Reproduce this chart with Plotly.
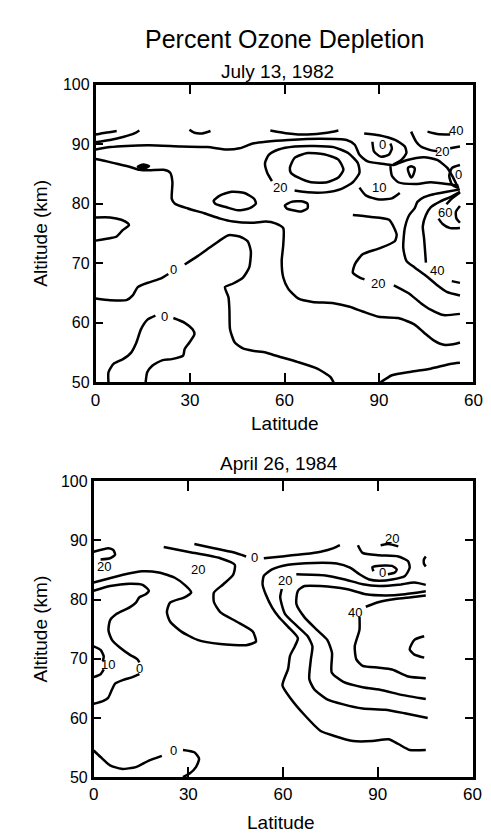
import plotly.graph_objects as go

# ---------------- axis ticks ----------------
lat_tickvals = [0, 30, 60, 90, 120]
lat_ticktext = ["0", "30", "60", "90", "60"]
alt_tickvals = [50, 60, 70, 80, 90, 100]

# ---------------- July 13, 1982 : contour lines (latitude path, altitude km) ----------------
t_a_lat = [0.0, 3.1, 6.7]
t_a_alt = [91.6, 91.9, 92.2]
t_b_lat = [0.0, 4.6, 8.7, 12.3, 13.9]
t_b_alt = [90.3, 90.7, 91.2, 91.8, 92.3]
t_c_lat = [0.0, 4.6, 9.8, 17.0, 27.2, 35.5, 41.6, 45.7, 49.9, 54.0, 61.2, 71.5, 79.7, 82.3, 83.8, 86.4, 91.0, 94.6, 98.7, 104.3, 108.6, 111.7, 113.2, 115.1]
t_c_alt = [89.1, 89.5, 89.7, 89.8, 89.6, 89.5, 89.1, 89.3, 90.1, 90.4, 90.7, 90.9, 90.7, 89.9, 88.2, 87.1, 86.7, 86.5, 87.3, 87.8, 87.3, 86.0, 84.7, 82.7]
t_arc1_lat = [29.8, 31.4, 33.9, 36.5]
t_arc1_alt = [92.4, 91.9, 91.8, 92.2]
t_d_lat = [0.0, 3.6, 6.7, 10.8, 13.9, 17.0, 21.6, 23.7, 24.4, 24.2, 25.2, 29.3, 34.5, 39.6, 43.7, 49.9, 54.0, 57.1, 59.6, 59.6, 59.1, 59.6, 61.2, 64.3, 68.9, 75.6, 80.7, 84.8, 89.9, 96.1, 101.3, 104.4, 107.5, 110.6, 113.6, 115.7]
t_d_alt = [87.5, 87.1, 86.7, 86.2, 85.7, 85.6, 85.7, 85.2, 83.6, 80.8, 80.0, 79.2, 78.4, 77.5, 77.0, 76.8, 77.0, 76.7, 75.9, 73.1, 70.4, 67.6, 65.7, 64.1, 63.5, 63.3, 62.7, 61.9, 61.0, 60.8, 59.7, 58.3, 57.0, 56.3, 56.4, 56.7]
t_lobe_lat = [0.0, 4.6, 8.2, 10.3, 10.6, 8.7, 6.7, 4.6, 0.0]
t_lobe_alt = [77.7, 77.7, 77.3, 76.7, 76.4, 75.6, 74.5, 74.2, 73.8]
t_oval1_lat = [37.5, 39.6, 43.2, 47.3, 50.4, 50.9, 48.8, 45.2, 41.6, 38.0, 37.5]
t_oval1_alt = [80.5, 81.4, 82.0, 81.8, 80.8, 80.0, 79.2, 78.9, 79.4, 80.0, 80.5]
t_e1_lat = [0.0, 4.6, 9.8, 11.8, 13.4, 17.0, 20.6, 23.1]
t_e1_alt = [64.1, 63.8, 63.8, 64.6, 66.0, 66.8, 67.4, 68.2]
t_e2_lat = [28.3, 32.4, 37.5, 42.2, 45.7, 48.3, 49.3, 48.8, 46.8, 43.7, 41.1, 42.2, 42.5, 42.7, 44.2, 46.8, 49.9, 54.0, 57.1, 64.3, 70.4, 74.6, 75.6]
t_e2_alt = [69.8, 71.2, 73.1, 74.7, 74.5, 73.7, 72.0, 69.3, 67.6, 66.6, 66.0, 64.3, 62.2, 58.9, 56.7, 55.7, 55.3, 55.0, 54.5, 53.4, 52.3, 50.9, 50.0]
t_f1_lat = [4.1, 4.1, 5.7, 8.7, 11.3, 12.9, 14.4, 16.4, 19.0]
t_f1_alt = [50.0, 51.7, 53.1, 53.9, 55.0, 56.6, 58.9, 60.5, 61.2]
t_f2_lat = [24.7, 28.3, 30.8, 31.4, 29.8, 28.3, 27.8, 24.2, 21.1, 18.0, 16.4, 15.9]
t_f2_alt = [60.8, 60.0, 58.9, 58.1, 56.7, 55.6, 54.5, 53.9, 53.7, 52.8, 51.7, 50.0]
t_g_lat = [90.5, 94.1, 100.2, 106.4, 112.6, 115.7]
t_g_alt = [50.0, 51.2, 51.8, 52.3, 53.1, 53.3]
t_s1_lat = [81.7, 87.0, 93.2, 95.6, 95.0, 90.1, 84.8, 82.4, 81.7, 83.9, 85.4]
t_s1_alt = [78.1, 77.8, 77.3, 74.8, 73.7, 72.5, 71.5, 69.9, 68.4, 67.6, 67.3]
t_s2_lat = [94.7, 99.3, 103.3, 106.4, 110.4, 115.7]
t_s2_alt = [66.3, 65.0, 63.3, 62.2, 61.3, 61.5]
t_oval2_lat = [61.7, 63.2, 67.3, 72.5, 77.1, 78.7, 77.1, 73.5, 68.4, 64.3, 62.0, 61.7]
t_oval2_alt = [86.0, 87.7, 88.5, 88.3, 87.4, 85.7, 84.4, 83.6, 83.6, 84.4, 85.2, 86.0]
t_loop_lat = [56.0, 54.5, 53.8, 55.0, 58.1, 63.2, 69.4, 75.6, 80.2, 83.3, 83.8, 81.7, 78.1, 73.0, 67.3, 63.2]
t_loop_alt = [83.8, 85.2, 86.8, 88.2, 89.1, 89.6, 89.7, 89.5, 88.5, 86.8, 85.2, 83.6, 82.5, 81.9, 81.9, 82.2]
t_blob2_lat = [60.1, 62.2, 65.3, 67.3, 67.3, 65.3, 62.7, 60.7, 60.1]
t_blob2_alt = [79.7, 80.3, 80.4, 80.0, 79.2, 78.7, 78.9, 79.2, 79.7]
t_arc2_lat = [55.5, 61.2, 67.3, 73.5, 77.1]
t_arc2_alt = [92.3, 91.8, 91.6, 91.9, 92.3]
t_u10_lat = [83.8, 85.8, 90.0, 94.1, 96.6]
t_u10_alt = [82.7, 81.4, 80.7, 80.9, 81.8]
t_u0_lat = [87.9, 88.4, 90.5, 93.1, 94.1, 93.6]
t_u0_alt = [90.4, 88.8, 87.9, 88.2, 89.3, 90.1]
t_h_lat = [85.3, 90.0, 95.1, 98.2, 98.7, 97.2, 94.6]
t_h_alt = [91.8, 91.5, 90.7, 89.6, 88.5, 87.4, 86.6]
t_drop_lat = [100.2, 101.3, 101.0, 100.3, 99.6, 99.2, 100.2]
t_drop_alt = [86.3, 86.0, 85.0, 84.4, 85.0, 86.0, 86.3]
t_40a_lat = [105.4, 108.5, 112.6]
t_40a_alt = [92.1, 91.7, 91.6]
t_20a_lat = [100.2, 101.8, 103.3, 106.4, 108.5]
t_20a_alt = [92.1, 90.4, 89.6, 89.0, 88.8]
t_20b_lat = [112.6, 115.7]
t_20b_alt = [89.3, 89.6]
t_c0_lat = [115.7, 113.2, 112.3, 113.2, 115.4]
t_c0_alt = [86.5, 86.0, 84.7, 83.2, 82.6]
t_conv_lat = [93.6, 94.1, 96.1, 101.3, 106.4, 111.6, 115.2]
t_conv_alt = [86.3, 84.7, 83.6, 83.3, 83.6, 83.3, 83.0]
t_fan1_lat = [115.7, 111.5, 107.4, 104.3, 102.2, 101.3, 99.6, 98.2, 97.7, 98.7, 101.3, 105.4, 108.5, 111.5, 115.7]
t_fan1_alt = [82.4, 82.0, 81.6, 81.1, 80.3, 79.2, 78.1, 75.9, 72.6, 70.4, 69.3, 67.7, 66.3, 65.2, 64.6]
t_fan2_lat = [115.7, 112.6, 109.5, 106.4, 104.9, 103.9, 104.3, 104.9]
t_fan2_alt = [82.0, 81.1, 80.4, 79.4, 78.1, 76.2, 74.2, 70.1]
t_fan2b_lat = [113.1, 115.7]
t_fan2b_alt = [67.0, 66.7]
t_fan3_lat = [115.7, 113.2, 111.4]
t_fan3_alt = [81.9, 80.9, 79.9]
t_fan3b_lat = [108.9, 110.2, 112.6, 115.7]
t_fan3b_alt = [77.5, 76.6, 75.9, 75.9]
t_fan4_lat = [115.7, 114.4, 114.6, 115.7]
t_fan4_alt = [79.6, 78.6, 77.5, 76.8]
# small filled cell
t_blob1_lat = [13.4, 15.2, 17.0, 15.2, 13.4]
t_blob1_alt = [86.2, 86.6, 86.3, 85.9, 86.2]

top_lbl_text = ["0", "0", "20", "10", "0", "20", "40", "0", "60", "40", "20"]
top_lbl_lat = [24.7, 21.8, 58.6, 90.0, 91.0, 110.0, 114.6, 115.1, 110.9, 108.5, 89.8]
top_lbl_alt = [69.0, 61.1, 82.7, 82.8, 89.9, 88.7, 92.3, 84.9, 78.6, 68.8, 66.6]

# ---------------- April 26, 1984 : contour lines ----------------
b_hook_lat = [0.0, 4.7, 6.2, 6.8, 5.2, 2.2]
b_hook_alt = [88.1, 88.7, 88.4, 87.6, 87.0, 86.8]
b_g_lat = [0.0, 4.2, 9.3, 15.4, 20.6, 25.7, 29.3, 30.9, 28.8, 24.2, 23.2, 24.2, 27.8, 32.9, 40.1, 48.3, 51.4, 50.4, 45.2, 40.1, 38.1, 38.1, 41.1, 44.2, 44.7, 40.1, 29.8, 22.2]
b_g_alt = [82.9, 83.5, 84.2, 84.8, 84.6, 83.7, 82.3, 81.2, 80.4, 79.5, 77.9, 76.3, 74.6, 73.2, 72.5, 72.3, 72.9, 74.6, 76.3, 77.9, 79.6, 81.2, 82.6, 84.2, 85.9, 87.0, 88.1, 88.9]
b_h1_lat = [31.9, 38.1, 44.2, 48.3]
b_h1_alt = [89.4, 88.7, 88.0, 87.3]
b_h2_lat = [53.9, 59.6, 66.8, 71.9, 76.0, 78.0]
b_h2_alt = [87.0, 87.3, 87.7, 88.1, 88.7, 89.2]
b_i_lat = [0.0, 5.2, 11.4, 15.5, 17.5, 16.5, 14.5, 13.4, 11.4, 7.3, 5.2, 4.7, 5.8, 8.3, 11.4, 13.9, 14.5]
b_i_alt = [81.5, 82.3, 82.7, 82.5, 81.5, 80.9, 80.4, 79.5, 78.7, 77.6, 76.5, 74.8, 73.2, 71.9, 70.7, 69.9, 69.4]
b_i2_lat = [14.5, 12.3, 9.2, 6.8, 5.8, 4.6, 3.1, 0.0]
b_i2_alt = [67.4, 66.9, 66.4, 65.8, 64.8, 63.4, 62.9, 62.4]
b_10a_lat = [0.0, 2.2, 3.2, 2.9]
b_10a_alt = [72.1, 71.5, 70.4, 69.6]
b_10b_lat = [3.2, 2.2, 0.0]
b_10b_alt = [68.2, 67.4, 66.9]
b_z1_lat = [0.0, 2.2, 5.2, 8.8, 13.4, 17.5, 21.6]
b_z1_alt = [54.5, 53.4, 52.0, 51.4, 51.7, 52.8, 53.6]
b_z2_lat = [28.3, 31.9, 33.4, 32.4, 30.4, 28.3]
b_z2_alt = [54.6, 54.2, 53.1, 51.7, 50.6, 50.0]
b_j_lat = [83.7, 85.2, 90.4, 96.5, 99.6, 100.1, 98.6, 94.5, 90.4, 87.3, 84.2, 81.2, 77.0, 69.8, 61.6, 56.5, 53.9, 53.5, 54.5, 56.5, 58.6, 61.6, 64.7, 63.7, 62.2, 61.6, 59.8, 62.4, 66.8, 71.9, 76.0, 82.2, 88.3, 93.4, 96.5, 100.1, 105.2]
b_j_alt = [89.2, 87.9, 87.5, 87.3, 86.5, 85.4, 84.0, 83.4, 83.2, 83.4, 84.3, 85.4, 86.1, 86.2, 85.9, 85.1, 84.0, 82.6, 80.9, 78.7, 77.1, 75.4, 73.5, 72.1, 70.5, 68.3, 65.5, 63.3, 60.5, 57.8, 57.0, 56.1, 56.1, 56.4, 55.6, 54.6, 54.6]
b_k1_lat = [64.2, 73.4, 79.6, 85.2, 90.4, 96.5, 101.6, 105.2]
b_k1_alt = [84.3, 84.1, 83.4, 82.6, 82.3, 82.5, 82.9, 82.5]
b_k2_lat = [59.6, 59.1, 60.6, 64.7, 67.8, 69.3, 68.8, 68.3, 69.8, 73.8, 79.1, 85.2, 92.3, 98.5, 105.8]
b_k2_alt = [81.8, 80.4, 77.6, 75.4, 73.8, 72.1, 69.9, 66.6, 64.9, 63.2, 62.3, 61.6, 61.4, 60.8, 60.0]
b_l3_lat = [105.2, 98.6, 92.4, 86.2, 80.0, 71.8, 66.8, 64.7, 64.2, 66.8, 70.9, 74.0, 75.5, 75.4, 79.1, 85.2, 91.4, 97.5, 105.2]
b_l3_alt = [81.4, 80.9, 80.7, 80.9, 81.8, 82.3, 82.3, 81.5, 79.3, 77.0, 74.8, 73.2, 71.0, 67.7, 66.1, 65.2, 64.7, 63.9, 63.2]
b_l4a_lat = [86.2, 90.4, 95.5, 100.6, 105.2]
b_l4a_alt = [78.8, 79.6, 80.1, 80.4, 80.7]
b_l4b_lat = [84.2, 84.2, 82.7, 83.2, 85.2, 90.4, 94.5, 99.7, 105.2]
b_l4b_alt = [77.1, 74.9, 72.1, 69.9, 68.8, 68.5, 68.2, 67.0, 66.7]
b_l5_lat = [104.7, 101.6, 100.1, 101.6, 104.7]
b_l5_alt = [73.8, 73.2, 71.6, 70.7, 70.2]
b_curl_lat = [88.6, 88.3, 89.8, 94.5, 96.0, 95.4, 93.2]
b_curl_alt = [84.8, 85.5, 85.7, 85.7, 85.1, 84.6, 84.3]
b_top20_lat = [90.9, 93.4, 96.5]
b_top20_alt = [89.2, 89.4, 89.0]
b_rarc_lat = [105.2, 104.6, 104.6, 105.2]
b_rarc_alt = [87.3, 86.8, 86.1, 85.6]

bot_lbl_text = ["20", "20", "0", "10", "0", "0", "20", "0", "40", "20"]
bot_lbl_lat = [3.2, 32.9, 50.9, 4.7, 14.5, 25.2, 60.6, 91.4, 82.7, 94.5]
bot_lbl_alt = [85.6, 85.1, 87.1, 69.1, 68.3, 54.5, 83.2, 84.6, 77.9, 90.4]

top_lines = [
    (t_a_lat, t_a_alt), (t_b_lat, t_b_alt), (t_c_lat, t_c_alt), (t_arc1_lat, t_arc1_alt),
    (t_d_lat, t_d_alt), (t_lobe_lat, t_lobe_alt), (t_oval1_lat, t_oval1_alt),
    (t_e1_lat, t_e1_alt), (t_e2_lat, t_e2_alt), (t_f1_lat, t_f1_alt), (t_f2_lat, t_f2_alt),
    (t_g_lat, t_g_alt), (t_s1_lat, t_s1_alt), (t_s2_lat, t_s2_alt), (t_oval2_lat, t_oval2_alt),
    (t_loop_lat, t_loop_alt), (t_blob2_lat, t_blob2_alt), (t_arc2_lat, t_arc2_alt),
    (t_u10_lat, t_u10_alt), (t_u0_lat, t_u0_alt), (t_h_lat, t_h_alt), (t_drop_lat, t_drop_alt),
    (t_40a_lat, t_40a_alt), (t_20a_lat, t_20a_alt), (t_20b_lat, t_20b_alt), (t_c0_lat, t_c0_alt),
    (t_conv_lat, t_conv_alt), (t_fan1_lat, t_fan1_alt), (t_fan2_lat, t_fan2_alt),
    (t_fan2b_lat, t_fan2b_alt), (t_fan3_lat, t_fan3_alt), (t_fan3b_lat, t_fan3b_alt),
    (t_fan4_lat, t_fan4_alt),
]
bot_lines = [
    (b_hook_lat, b_hook_alt), (b_g_lat, b_g_alt), (b_h1_lat, b_h1_alt), (b_h2_lat, b_h2_alt),
    (b_i_lat, b_i_alt), (b_i2_lat, b_i2_alt), (b_10a_lat, b_10a_alt), (b_10b_lat, b_10b_alt),
    (b_z1_lat, b_z1_alt), (b_z2_lat, b_z2_alt), (b_j_lat, b_j_alt), (b_k1_lat, b_k1_alt),
    (b_k2_lat, b_k2_alt), (b_l3_lat, b_l3_alt), (b_l4a_lat, b_l4a_alt), (b_l4b_lat, b_l4b_alt),
    (b_l5_lat, b_l5_alt), (b_curl_lat, b_curl_alt), (b_top20_lat, b_top20_alt),
    (b_rarc_lat, b_rarc_alt),
]

FONT = "Liberation Sans, Arial, Helvetica, sans-serif"
LW = 2.5

fig = go.Figure()
for lat, alt in top_lines:
    fig.add_trace(go.Scatter(x=lat, y=alt, mode="lines", xaxis="x", yaxis="y",
                             line=dict(color="black", width=LW, shape="spline", smoothing=0.6),
                             hoverinfo="skip", showlegend=False))
fig.add_trace(go.Scatter(x=t_blob1_lat, y=t_blob1_alt, mode="lines", xaxis="x", yaxis="y",
                         fill="toself", fillcolor="black",
                         line=dict(color="black", width=LW, shape="spline", smoothing=0.6),
                         hoverinfo="skip", showlegend=False))
for lat, alt in bot_lines:
    fig.add_trace(go.Scatter(x=lat, y=alt, mode="lines", xaxis="x2", yaxis="y2",
                             line=dict(color="black", width=LW, shape="spline", smoothing=0.6),
                             hoverinfo="skip", showlegend=False))

annotations = []
for t, x, y in zip(top_lbl_text, top_lbl_lat, top_lbl_alt):
    annotations.append(dict(text=t, x=x, y=y, xref="x", yref="y", showarrow=False,
                            font=dict(size=13, family=FONT, color="black")))
for t, x, y in zip(bot_lbl_text, bot_lbl_lat, bot_lbl_alt):
    annotations.append(dict(text=t, x=x, y=y, xref="x2", yref="y2", showarrow=False,
                            font=dict(size=13, family=FONT, color="black")))

W, H = 491, 833
def px(v):
    return v / W
def py(v):
    return 1 - v / H

titles = [
    ("Percent Ozone Depletion", 279.5, 23.5, 25, 0),
    ("July 13, 1982", 272.5, 56.5, 19, 0),
    ("Latitude", 280, 416, 19, 0),
    ("April 26, 1984", 274, 457, 19, 0),
    ("Latitude", 276, 823, 19, 0),
    ("Altitude (km)", 28, 222, 19, -90),
    ("Altitude (km)", 28, 626, 19, -90),
]
for text, x, y, s, ang in titles:
    annotations.append(dict(text=text, x=px(x), y=py(y), xref="paper", yref="paper",
                            showarrow=False, xanchor="center", yanchor="middle",
                            textangle=ang, font=dict(size=s, family=FONT, color="black")))

xax = dict(range=[0, 120], tickvals=lat_tickvals, ticktext=lat_ticktext, ticks="inside",
           ticklen=10, tickwidth=2, tickcolor="black", showline=True, linewidth=2.5,
           linecolor="black", mirror="ticks", showgrid=False, zeroline=False,
           tickfont=dict(size=17, family=FONT, color="black"))
yax = dict(range=[50, 100], tickvals=alt_tickvals, ticks="inside", ticklen=8, tickwidth=2,
           tickcolor="black", showline=True, linewidth=2.5, linecolor="black", mirror="ticks",
           showgrid=False, zeroline=False, tickfont=dict(size=16, family=FONT, color="black"))

fig.update_layout(
    width=W, height=H, margin=dict(l=0, r=0, t=0, b=0),
    paper_bgcolor="white", plot_bgcolor="white", showlegend=False,
    xaxis=dict(xax, domain=[px(85), px(474)], anchor="y"),
    yaxis=dict(yax, domain=[py(374), py(70)], anchor="x"),
    xaxis2=dict(xax, domain=[px(83), px(473)], anchor="y2"),
    yaxis2=dict(yax, domain=[py(777), py(475)], anchor="x2"),
    annotations=annotations,
)

fig.write_html("out.html")
